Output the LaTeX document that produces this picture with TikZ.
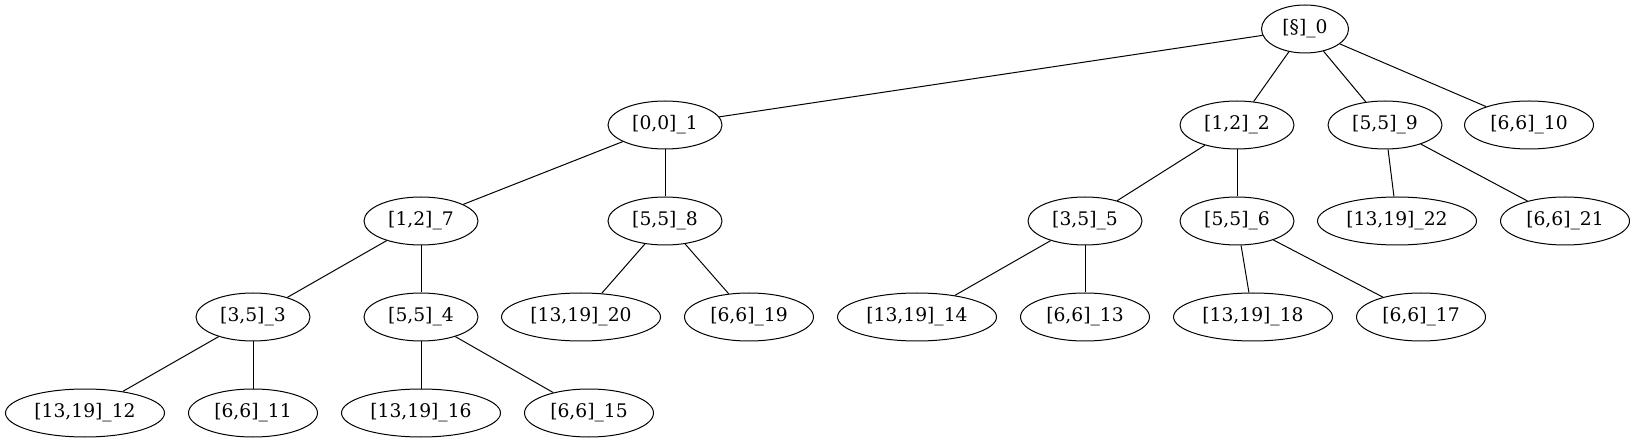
\documentclass[tikz,border=0pt]{standalone}
\usepackage{fontspec}
\setmainfont{DejaVu Serif}
\usepackage{tikz}
\usetikzlibrary{shapes.geometric}

\begin{document}
\begin{tikzpicture}[x=1pt,y=-1pt,
    tok/.style={draw, ellipse, line width=1pt, inner sep=0pt,
      minimum width=114pt, minimum height=48pt,
      font=\fontsize{18.7}{22}\selectfont},
    tokroot/.style={tok, minimum width=87pt},
    tokmid/.style={tok, minimum width=129pt},
    toklong/.style={tok, minimum width=159pt},
    edge/.style={line width=1pt}]
\useasboundingbox (0,0) rectangle (1635,443);
% level 0 and 1
\node[tokroot] (n0) at (1305,29) {[§]\_0};
\node[tok] (n1) at (665,125) {[0,0]\_1};
\node[tok] (n2) at (1237,125) {[1,2]\_2};
\node[tok] (n9) at (1385,125) {[5,5]\_9};
\node[tokmid] (n10) at (1529,125) {[6,6]\_10};
% level 2
\node[tok] (n7) at (421,221) {[1,2]\_7};
\node[tok] (n8) at (665,221) {[5,5]\_8};
\node[tok] (n5) at (1085,221) {[3,5]\_5};
\node[tok] (n6) at (1237,221) {[5,5]\_6};
\node[toklong] (n22) at (1397,221) {[13,19]\_22};
\node[tokmid] (n21) at (1565,221) {[6,6]\_21};
% level 3
\node[tok] (n3) at (253,317) {[3,5]\_3};
\node[tok] (n4) at (421,317) {[5,5]\_4};
\node[toklong] (n20) at (581,317) {[13,19]\_20};
\node[tokmid] (n19) at (749,317) {[6,6]\_19};
\node[toklong] (n14) at (917,317) {[13,19]\_14};
\node[tokmid] (n13) at (1085,317) {[6,6]\_13};
\node[toklong] (n18) at (1253,317) {[13,19]\_18};
\node[tokmid] (n17) at (1421,317) {[6,6]\_17};
% level 4
\node[toklong] (n12) at (85,413) {[13,19]\_12};
\node[tokmid] (n11) at (253,413) {[6,6]\_11};
\node[toklong] (n16) at (421,413) {[13,19]\_16};
\node[tokmid] (n15) at (589,413) {[6,6]\_15};
% edges
\foreach \a/\b in {0/1, 0/2, 0/9, 0/10, 1/7, 1/8, 2/5, 2/6, 9/22, 9/21,
    7/3, 7/4, 8/20, 8/19, 5/14, 5/13, 6/18, 6/17, 3/12, 3/11, 4/16, 4/15}
  \draw[edge] (n\a) -- (n\b);
\end{tikzpicture}
\end{document}
